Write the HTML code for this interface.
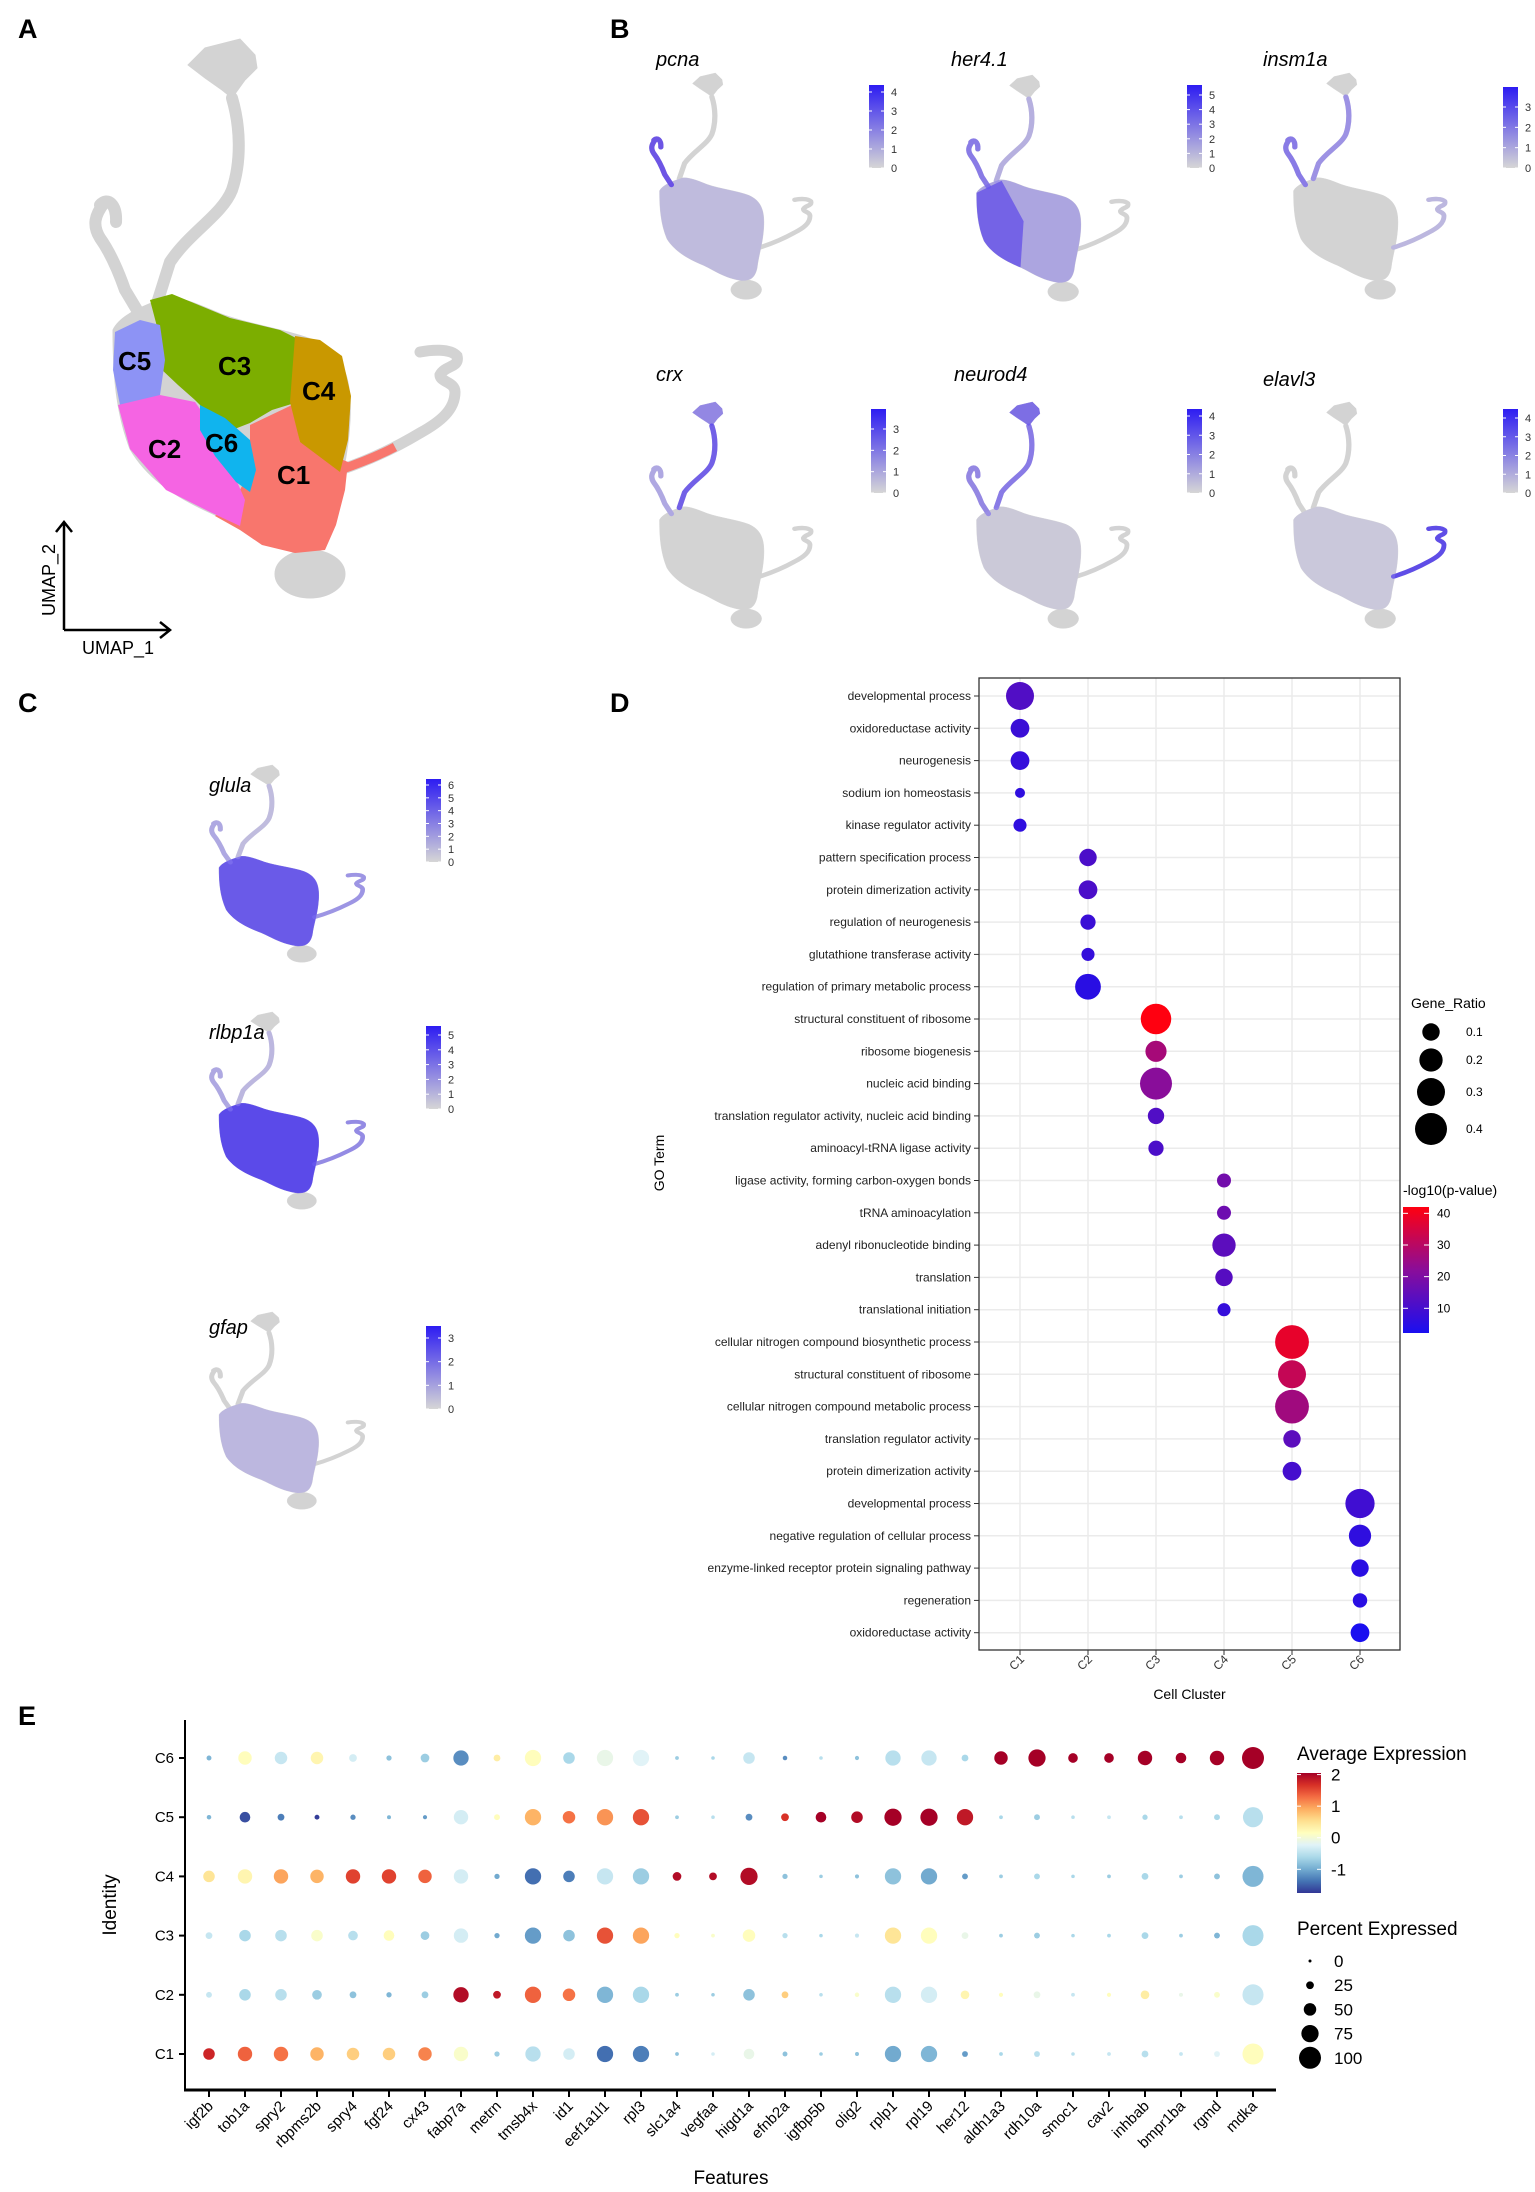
<!DOCTYPE html>
<html><head><meta charset="utf-8">
<style>
html,body{margin:0;padding:0;background:#fff;}
svg{display:block;font-family:"Liberation Sans",Arial,sans-serif;}
</style></head>
<body>
<svg id="fig" width="1535" height="2192" viewBox="0 0 1535 2192" xmlns="http://www.w3.org/2000/svg">
<defs>
  <linearGradient id="gradB" x1="0" y1="1" x2="0" y2="0">
    <stop offset="0" stop-color="#d6d6d6"/><stop offset="1" stop-color="#2d1cf2"/>
  </linearGradient>
  <linearGradient id="gradD" x1="0" y1="1" x2="0" y2="0">
    <stop offset="0" stop-color="#1a0ff0"/><stop offset="0.5" stop-color="#8a0d9a"/><stop offset="1" stop-color="#ff0010"/>
  </linearGradient>
  <linearGradient id="gradE" x1="0" y1="1" x2="0" y2="0">
    <stop offset="0" stop-color="#313695"/><stop offset="0.1" stop-color="#4575b4"/><stop offset="0.2" stop-color="#74add1"/>
    <stop offset="0.3" stop-color="#abd9e9"/><stop offset="0.4" stop-color="#e0f3f8"/><stop offset="0.5" stop-color="#ffffbf"/>
    <stop offset="0.6" stop-color="#fee090"/><stop offset="0.7" stop-color="#fdae61"/><stop offset="0.8" stop-color="#f46d43"/>
    <stop offset="0.9" stop-color="#d73027"/><stop offset="1" stop-color="#a50026"/>
  </linearGradient>
  <path id="p-top" d="M188,65 L205,48 L240,39 L255,55 L257,68 L245,80 L232,98 L222,90 L205,78 Z"/>
  <path id="p-stalk" fill="none" stroke-width="12" stroke-linecap="round" d="M232,98 C240,125 242,160 232,190 C222,215 190,232 170,262 L158,300"/>
  <path id="p-loop" fill="none" stroke-width="12" stroke-linecap="round" d="M104,203 C95,215 92,225 100,238 C110,252 118,270 125,290 L140,315 M100,205 C108,196 117,205 116,222"/>
  <path id="p-body" d="M113,330 C113,370 115,410 130,449 C145,475 170,495 213,514 C240,528 260,545 300,552 C320,552 330,545 335,520 C338,490 348,460 350,420 C352,380 345,355 316,341 C290,330 250,325 221,314 C200,305 180,296 165,298 C145,305 120,315 113,330 Z"/>
  <path id="p-arm" fill="none" stroke-width="11" stroke-linecap="round" d="M340,470 C370,460 395,448 420,433 C440,422 455,410 455,392 C455,382 440,382 440,375 C445,365 460,368 457,356 C450,348 430,350 420,352"/>
  <ellipse id="p-bottom" cx="310" cy="574" rx="35" ry="24"/>
  <g id="umap-base">
    <use href="#p-top" fill="#d3d3d3" stroke="#d3d3d3"/>
    <use href="#p-stalk" fill="#d3d3d3" stroke="#d3d3d3"/>
    <use href="#p-loop" fill="#d3d3d3" stroke="#d3d3d3"/>
    <use href="#p-body" fill="#d3d3d3" stroke="#d3d3d3"/>
    <use href="#p-arm" fill="#d3d3d3" stroke="#d3d3d3"/>
    <use href="#p-bottom" fill="#d3d3d3" stroke="#d3d3d3"/>
  </g>
</defs>

<!-- Panel letters -->
<text x="18" y="38" font-size="27" font-weight="bold">A</text>
<text x="610" y="38" font-size="27" font-weight="bold">B</text>
<text x="18" y="712" font-size="27" font-weight="bold">C</text>
<text x="610" y="712" font-size="27" font-weight="bold">D</text>
<text x="18" y="1725" font-size="27" font-weight="bold">E</text>

<!-- Panel A -->
<g>
  <use href="#umap-base"/>
  <path fill="#f8766d" d="M250,425 L292,405 L300,442 L348,462 L345,490 L336,525 L325,550 L295,553 L262,545 L240,530 L215,516 L235,500 L250,470 Z"/>
  <path fill="none" stroke="#f8766d" stroke-width="9" d="M340,470 C360,463 378,456 395,447"/>
  <path fill="#7cae00" d="M150,300 L172,294 L230,318 L280,330 L300,340 L298,402 L272,410 L250,423 L232,430 L213,418 L195,400 L178,385 L160,368 L160,338 Z"/>
  <path fill="#8d93f5" d="M115,332 L140,320 L160,325 L165,360 L160,395 L136,410 L120,405 L113,370 Z"/>
  <path fill="#c99800" d="M295,336 L320,340 L342,356 L351,396 L348,440 L340,472 L300,442 L290,402 Z"/>
  <path fill="#f564e3" d="M118,405 L160,395 L195,402 L215,430 L232,470 L245,500 L240,526 L210,512 L166,490 L130,449 Z"/>
  <path fill="#10b4ee" d="M200,405 L225,418 L250,440 L256,470 L250,492 L236,482 L215,456 L200,430 Z"/>
  <g font-size="26" font-weight="bold" fill="#000">
    <text x="118" y="370">C5</text>
    <text x="218" y="375">C3</text>
    <text x="302" y="400">C4</text>
    <text x="148" y="458">C2</text>
    <text x="205" y="452">C6</text>
    <text x="277" y="484">C1</text>
  </g>
  <g stroke="#000" stroke-width="2.5" fill="none">
    <path d="M64,630 L64,522 M56,532 L64,522 L72,532"/>
    <path d="M64,630 L170,630 M160,622 L170,630 L160,638"/>
  </g>
  <text transform="translate(55,580) rotate(-90)" text-anchor="middle" font-size="18">UMAP_2</text>
  <text x="118" y="654" text-anchor="middle" font-size="18">UMAP_1</text>
</g>

<!-- Panel B -->
<g id="panelB">
  <g>
    <text x="656" y="66" font-size="20" font-style="italic">pcna</text>
    <g transform="translate(609.8,57.2) scale(0.44,0.405)">
      <use href="#umap-base"/>
      <use href="#p-body" fill="#9b8ff2" stroke="none" opacity="0.35"/>
      <use href="#p-loop" fill="#5a3ee8" stroke="#5a3ee8" opacity="0.85"/>
    </g>
  </g>
  <g>
    <text x="951" y="66" font-size="20" font-style="italic">her4.1</text>
    <g transform="translate(926.8,59.2) scale(0.44,0.405)">
      <use href="#umap-base"/>
      <use href="#p-body" fill="#7d6cf0" stroke="none" opacity="0.45"/>
      <path d="M113,330 C113,370 115,410 130,449 C145,475 170,495 213,514 L220,400 L170,300 Z" fill="#4f37ea" opacity="0.6"/>
      <use href="#p-loop" fill="#6a55ee" stroke="#6a55ee" opacity="0.7"/>
      <use href="#p-stalk" fill="#8c7ef2" stroke="#8c7ef2" opacity="0.4"/>
    </g>
  </g>
  <g>
    <text x="1263" y="66" font-size="20" font-style="italic">insm1a</text>
    <g transform="translate(1243.8,57.2) scale(0.44,0.405)">
      <use href="#umap-base"/>
      <use href="#p-loop" fill="#6a55ee" stroke="#6a55ee" opacity="0.7"/>
      <use href="#p-stalk" fill="#7a68f0" stroke="#7a68f0" opacity="0.6"/>
      <use href="#p-arm" fill="#9a8ef2" stroke="#9a8ef2" opacity="0.4"/>
    </g>
  </g>
  <g>
    <text x="656" y="381" font-size="20" font-style="italic">crx</text>
    <g transform="translate(609.8,386.2) scale(0.44,0.405)">
      <use href="#umap-base"/>
      <use href="#p-top" fill="#6a55ee" stroke="#6a55ee" opacity="0.6"/>
      <use href="#p-stalk" fill="#5a44ec" stroke="#5a44ec" opacity="0.8"/>
      <use href="#p-loop" fill="#8b7ef2" stroke="#8b7ef2" opacity="0.5"/>
    </g>
  </g>
  <g>
    <text x="954" y="381" font-size="20" font-style="italic">neurod4</text>
    <g transform="translate(926.8,386.2) scale(0.44,0.405)">
      <use href="#umap-base"/>
      <use href="#p-top" fill="#5a44ec" stroke="#5a44ec" opacity="0.7"/>
      <use href="#p-stalk" fill="#6a55ee" stroke="#6a55ee" opacity="0.7"/>
      <use href="#p-loop" fill="#6a55ee" stroke="#6a55ee" opacity="0.6"/>
      <use href="#p-body" fill="#b0a6f2" stroke="none" opacity="0.2"/>
    </g>
  </g>
  <g>
    <text x="1263" y="386" font-size="20" font-style="italic">elavl3</text>
    <g transform="translate(1243.8,386.2) scale(0.44,0.405)">
      <use href="#umap-base"/>
      <use href="#p-arm" fill="#4a35ea" stroke="#4a35ea" opacity="0.85"/>
      <use href="#p-body" fill="#b0a6f2" stroke="none" opacity="0.25"/>
    </g>
  </g>
</g>

<!-- Panel C -->
<g>
  <g>
    <text x="209" y="792" font-size="20" font-style="italic">glula</text>
    <g transform="translate(171.6,751.2) scale(0.42,0.353)">
      <use href="#umap-base"/>
      <use href="#p-body" fill="#5846ec" stroke="#5846ec" opacity="0.85"/>
      <use href="#p-loop" fill="#8a7ef2" stroke="#8a7ef2" opacity="0.5"/>
      <use href="#p-stalk" fill="#a59cf0" stroke="#a59cf0" opacity="0.4"/>
      <use href="#p-arm" fill="#7a6cf0" stroke="#7a6cf0" opacity="0.6"/>
    </g>
  </g>
  <g>
    <text x="209" y="1039" font-size="20" font-style="italic">rlbp1a</text>
    <g transform="translate(171.6,998.2) scale(0.42,0.353)">
      <use href="#umap-base"/>
      <use href="#p-body" fill="#4f3cec" stroke="#4f3cec" opacity="0.9"/>
      <use href="#p-loop" fill="#8a7ef2" stroke="#8a7ef2" opacity="0.5"/>
      <use href="#p-stalk" fill="#9a8ef2" stroke="#9a8ef2" opacity="0.4"/>
      <use href="#p-arm" fill="#6a5cf0" stroke="#6a5cf0" opacity="0.6"/>
    </g>
  </g>
  <g>
    <text x="209" y="1334" font-size="20" font-style="italic">gfap</text>
    <g transform="translate(171.6,1298.2) scale(0.42,0.353)">
      <use href="#umap-base"/>
      <use href="#p-body" fill="#9b8ff2" stroke="none" opacity="0.4"/>
    </g>
  </g>
</g>

<g id="colorbars"></g>
<g id="panelD"></g>
<g id="panelE"></g>
</svg>

<script>
// ===== Panel D data =====
const goTerms = ["developmental process","oxidoreductase activity","neurogenesis","sodium ion homeostasis","kinase regulator activity",
"pattern specification process","protein dimerization activity","regulation of neurogenesis","glutathione transferase activity","regulation of primary metabolic process",
"structural constituent of ribosome","ribosome biogenesis","nucleic acid binding","translation regulator activity, nucleic acid binding","aminoacyl-tRNA ligase activity",
"ligase activity, forming carbon-oxygen bonds","tRNA aminoacylation","adenyl ribonucleotide binding","translation","translational initiation",
"cellular nitrogen compound biosynthetic process","structural constituent of ribosome","cellular nitrogen compound metabolic process","translation regulator activity","protein dimerization activity",
"developmental process","negative regulation of cellular process","enzyme-linked receptor protein signaling pathway","regeneration","oxidoreductase activity"];
const goCluster = [0,0,0,0,0,1,1,1,1,1,2,2,2,2,2,3,3,3,3,3,4,4,4,4,4,5,5,5,5,5];
const geneRatio = [0.30,0.12,0.12,0.015,0.045, 0.10,0.12,0.07,0.045,0.25, 0.36,0.16,0.40,0.085,0.07, 0.055,0.055,0.20,0.10,0.045, 0.45,0.30,0.45,0.10,0.12, 0.33,0.18,0.10,0.06,0.12];
const negLogP = [12,8,7,6,6, 11,11,8,7,5, 42,27,22,12,11, 18,17,14,13,7, 38,32,26,14,10, 9,6,5,5,2];
const clusterNames = ["C1","C2","C3","C4","C5","C6"];
const ratioTicks = [0.1,0.2,0.3,0.4];
const pTicks = [10,20,30,40];

// ===== Panel E data =====
const features = ["igf2b","tob1a","spry2","rbpms2b","spry4","fgf24","cx43","fabp7a","metrn","tmsb4x","id1","eef1a1l1","rpl3","slc1a4","vegfaa","higd1a","efnb2a","igfbp5b","olig2","rplp1","rpl19","her12","aldh1a3","rdh10a","smoc1","cav2","inhbab","bmpr1ba","rgmd","mdka"];
const identities = ["C1","C2","C3","C4","C5","C6"];
// average expression per feature: [C1,C2,C3,C4,C5,C6]
const avgExpr = [
[1.8,-0.4,-0.4,0.5,-0.9,-0.9],[1.4,-0.6,-0.6,0.3,-1.6,0.2],[1.3,-0.5,-0.5,1.0,-1.3,-0.4],[0.9,-0.7,0.1,0.9,-1.7,0.3],
[0.7,-0.8,-0.5,1.6,-1.2,-0.3],[0.7,-0.9,0.2,1.6,-0.9,-0.8],[1.2,-0.7,-0.7,1.4,-1.1,-0.7],[0.1,2.0,-0.3,-0.3,-0.3,-1.2],
[-0.7,1.9,-1.0,-1.0,0.2,0.4],[-0.5,1.4,-1.1,-1.4,0.9,0.2],[-0.3,1.3,-0.8,-1.3,1.3,-0.6],[-1.4,-0.9,1.5,-0.4,1.1,-0.1],
[-1.3,-0.6,1.0,-0.7,1.5,-0.2],[-0.8,-0.7,0.2,2.0,-0.7,-0.7],[-0.3,-0.7,0.1,2.0,-0.5,-0.6],[-0.1,-0.8,0.2,2.0,-1.2,-0.4],
[-0.8,0.7,-0.5,-0.8,1.7,-1.2],[-0.7,-0.5,-0.6,-0.7,2.1,-0.5],[-0.8,0.1,-0.4,-0.8,2.0,-0.8],[-1.0,-0.5,0.5,-0.8,2.1,-0.5],
[-0.9,-0.3,0.2,-1.0,2.1,-0.4],[-1.1,0.3,-0.1,-1.1,1.9,-0.6],[-0.6,0.2,-0.7,-0.7,-0.6,2.1],[-0.5,-0.1,-0.7,-0.6,-0.7,2.1],
[-0.5,-0.4,-0.6,-0.6,-0.5,2.1],[-0.4,0.2,-0.6,-0.7,-0.4,2.1],[-0.5,0.4,-0.6,-0.6,-0.6,2.1],[-0.4,-0.1,-0.7,-0.7,-0.5,2.1],
[-0.2,0.1,-0.9,-0.8,-0.6,2.1],[0.2,-0.4,-0.6,-0.9,-0.5,2.1]];
const pctExpr = [
[45,15,20,45,8,10],[60,45,45,60,40,55],[60,45,45,60,20,50],[55,35,45,55,10,50],
[50,20,35,60,12,25],[50,12,40,60,5,12],[55,20,30,55,6,30],[60,65,60,60,60,65],
[12,25,12,12,15,20],[65,70,70,70,70,70],[45,50,45,45,50,45],[70,70,70,70,70,70],
[70,70,70,70,70,70],[4,4,12,30,4,4],[3,3,4,25,3,3],[40,45,50,75,20,45],
[10,20,12,12,25,8],[3,3,3,3,40,3],[5,8,6,6,45,6],[70,70,70,70,75,65],
[70,70,70,70,75,65],[15,30,20,15,70,20],[4,6,4,4,4,55],[15,20,15,15,15,75],
[3,4,3,3,3,35],[4,6,4,4,4,35],[20,30,20,20,12,60],[4,5,4,4,4,40],
[15,15,15,15,15,60],[95,95,95,95,90,100]];
const exprTicks = [-1,0,1,2];
const pctTicks = [0,25,50,75,100];

// ===== Feature colorbar data =====
const cbMax = [4,5,3,3,4,4,6,5,3];
const cbNames = ["pcna","her4-1","insm1a","crx","neurod4","elavl3","glula","rlbp1a","gfap"];

const NS = "http://www.w3.org/2000/svg";
function mk(tag, attrs, parent){const e=document.createElementNS(NS,tag);for(const k in attrs)e.setAttribute(k,attrs[k]);parent.appendChild(e);return e;}

// ---- colorbars ----
(function(){
  const g=document.getElementById('colorbars');
  const boxes=[[869,85,168,92],[1187,85,168,95],[1503,87,168,107],[871,409,493,429],[1187,409,493,416],[1503,409,493,418],[426,779,862,785],[426,1026,1109,1035],[426,1326,1409,1338]];
  boxes.forEach((b,i)=>{
    const [x,top,bot,maxY]=b;
    const grp=mk('g',{},g);
    
    
    mk('rect',{x:x,y:top,width:15,height:bot-top,fill:'url(#gradB)'},grp);
    const step=(bot-maxY)/cbMax[i];
    for(let v=0;v<=cbMax[i];v++){
      const y=bot-v*step;
      mk('line',{x1:x,x2:x+3,y1:y,y2:y,stroke:'#fff','stroke-width':1},grp);
      mk('line',{x1:x+12,x2:x+15,y1:y,y2:y,stroke:'#fff','stroke-width':1},grp);
      const t=mk('text',{x:x+22,y:y+4,'font-size':11,fill:'#333'},grp);t.textContent=v;
    }
  });
})();

// ---- Panel D ----
(function(){
  const g=document.getElementById('panelD');
  const L=979,R=1400,T=678,B=1650;
  const xD=c=>1020+68*c;
  const yD=i=>696+32.3*i;
  const rD=r=>Math.sqrt(16+600*r);
  const pMin=2.2,pMax=42;
  const colD=p=>{let t=Math.max(0,Math.min(1,(p-pMin)/(pMax-pMin)));
    let r,gg,b; if(t<0.5){const u=t/0.5;r=26+(138-26)*u;gg=15+(13-15)*u;b=240+(154-240)*u;}else{const u=(t-0.5)/0.5;r=138+(255-138)*u;gg=13-13*u;b=154+(16-154)*u;}
    return `rgb(${r|0},${gg|0},${b|0})`;};
  mk('rect',{x:L,y:T,width:R-L,height:B-T,fill:'#fff'},g);
  for(let i=0;i<goTerms.length;i++){mk('line',{x1:L,x2:R,y1:yD(i),y2:yD(i),stroke:'#ebebeb','stroke-width':1.5},g);}
  for(let c=0;c<6;c++){mk('line',{x1:xD(c),x2:xD(c),y1:T,y2:B,stroke:'#ebebeb','stroke-width':1.5},g);}
  for(let i=0;i<goTerms.length;i++){
    const c=mk('circle',{cx:xD(goCluster[i]),cy:yD(i),r:rD(geneRatio[i]),fill:colD(negLogP[i])},g);
    
    
    mk('line',{x1:L-5,x2:L,y1:yD(i),y2:yD(i),stroke:'#333','stroke-width':1},g);
    const t=mk('text',{x:L-8,y:yD(i)+4,'text-anchor':'end','font-size':12,fill:'#222'},g);
    
    
    t.textContent=goTerms[i];
  }
  mk('rect',{x:L,y:T,width:R-L,height:B-T,fill:'none',stroke:'#333','stroke-width':1.3},g);
  for(let c=0;c<6;c++){
    mk('line',{x1:xD(c),x2:xD(c),y1:B,y2:B+5,stroke:'#333','stroke-width':1},g);
    const t=mk('text',{'text-anchor':'end','font-size':12,fill:'#333',transform:`translate(${xD(c)+5},${B+10}) rotate(-45)`},g);
    
    
    t.textContent=clusterNames[c];
  }
  const xt=mk('text',{x:(L+R)/2,y:1699,'text-anchor':'middle','font-size':14},g);
  xt.textContent='Cell Cluster';
  const yt=mk('text',{transform:`translate(664,1163) rotate(-90)`,'text-anchor':'middle','font-size':14},g);
  yt.textContent='GO Term';
  // size legend
  const sl=mk('text',{x:1411,y:1008,'font-size':14},g);sl.textContent='Gene_Ratio';
  const ly=[1032,1060,1092,1129];
  ratioTicks.forEach((v,i)=>{
    const c=mk('circle',{cx:1431,cy:ly[i],r:rD(v),fill:'#000'},g);
    
    const t=mk('text',{x:1466,y:ly[i]+4,'font-size':12},g);t.textContent=v;
  });
  const cl=mk('text',{x:1403,y:1195,'font-size':14},g);cl.textContent='-log10(p-value)';
  const cbT=1207,cbB=1333;
  const cb=mk('rect',{x:1403,y:cbT,width:26,height:cbB-cbT,fill:'url(#gradD)'},g);
  pTicks.forEach(v=>{
    const y=cbB-(v-pMin)/(pMax-pMin)*(cbB-cbT);
    mk('line',{x1:1403,x2:1408,y1:y,y2:y,stroke:'#fff'},g);mk('line',{x1:1424,x2:1429,y1:y,y2:y,stroke:'#fff'},g);
    const t=mk('text',{x:1437,y:y+4,'font-size':12},g);t.textContent=v;
  });
})();

// ---- Panel E ----
(function(){
  const g=document.getElementById('panelE');
  const xE=i=>209+36*i;
  const yE=j=>2054-59.2*j; // j index in identities (C1 bottom)
  const rE=p=>1.5+9.5*p/100;
  const eMin=-1.75,eMax=2.1;
  const stops=["#313695","#4575b4","#74add1","#abd9e9","#e0f3f8","#ffffbf","#fee090","#fdae61","#f46d43","#d73027","#a50026"];
  const hex=h=>[parseInt(h.substr(1,2),16),parseInt(h.substr(3,2),16),parseInt(h.substr(5,2),16)];
  const colE=v=>{let t=Math.max(0,Math.min(1,(v-eMin)/(eMax-eMin)))*10;const k=Math.min(9,Math.floor(t));const u=t-k;const a=hex(stops[k]),b=hex(stops[k+1]);
    return `rgb(${Math.round(a[0]+(b[0]-a[0])*u)},${Math.round(a[1]+(b[1]-a[1])*u)},${Math.round(a[2]+(b[2]-a[2])*u)})`;};
  for(let i=0;i<features.length;i++){
    for(let j=0;j<identities.length;j++){
      const c=mk('circle',{cx:xE(i),cy:yE(j),r:rE(pctExpr[i][j]),fill:colE(avgExpr[i][j])},g);
      
      
    }
    mk('line',{x1:xE(i),x2:xE(i),y1:2091,y2:2097,stroke:'#000','stroke-width':2},g);
    const t=mk('text',{'text-anchor':'end','font-size':15,transform:`translate(${xE(i)+5},${2107}) rotate(-45)`},g);
    
    
    t.textContent=features[i];
  }
  identities.forEach((n,j)=>{
    mk('line',{x1:179,x2:185,y1:yE(j),y2:yE(j),stroke:'#000','stroke-width':2},g);
    const t=mk('text',{x:174,y:yE(j)+5,'text-anchor':'end','font-size':15},g);
    t.textContent=n;
  });
  mk('line',{x1:185,x2:185,y1:1720,y2:2091,stroke:'#000','stroke-width':2},g);
  mk('line',{x1:184,x2:1276,y1:2090,y2:2090,stroke:'#000','stroke-width':3},g);
  const yt=mk('text',{transform:'translate(116,1905) rotate(-90)','text-anchor':'middle','font-size':19},g);
  yt.textContent='Identity';
  const xt=mk('text',{x:731,y:2184,'text-anchor':'middle','font-size':19},g);
  xt.textContent='Features';
  // legends
  const at=mk('text',{x:1297,y:1760,'font-size':19},g);at.textContent='Average Expression';
  const cbT=1773,cbB=1893;
  const cb=mk('rect',{x:1297,y:cbT,width:24,height:cbB-cbT,fill:'url(#gradE)'},g);
  exprTicks.forEach(v=>{
    const y=cbB-(v-(-1.75))/(2.05-(-1.75))*(cbB-cbT);
    mk('line',{x1:1297,x2:1301,y1:y,y2:y,stroke:'#fff'},g);mk('line',{x1:1317,x2:1321,y1:y,y2:y,stroke:'#fff'},g);
    const t=mk('text',{x:1331,y:y+6,'font-size':17},g);t.textContent=v;
  });
  const pt=mk('text',{x:1297,y:1935,'font-size':19},g);pt.textContent='Percent Expressed';
  pctTicks.forEach((v,k)=>{
    const y=1961+24.2*k;
    const c=mk('circle',{cx:1310,cy:y,r:Math.max(1.5,rE(v)),fill:'#000'},g);
    
    const t=mk('text',{x:1334,y:y+6,'font-size':17},g);t.textContent=v;
  });
})();
</script>
</body></html>
